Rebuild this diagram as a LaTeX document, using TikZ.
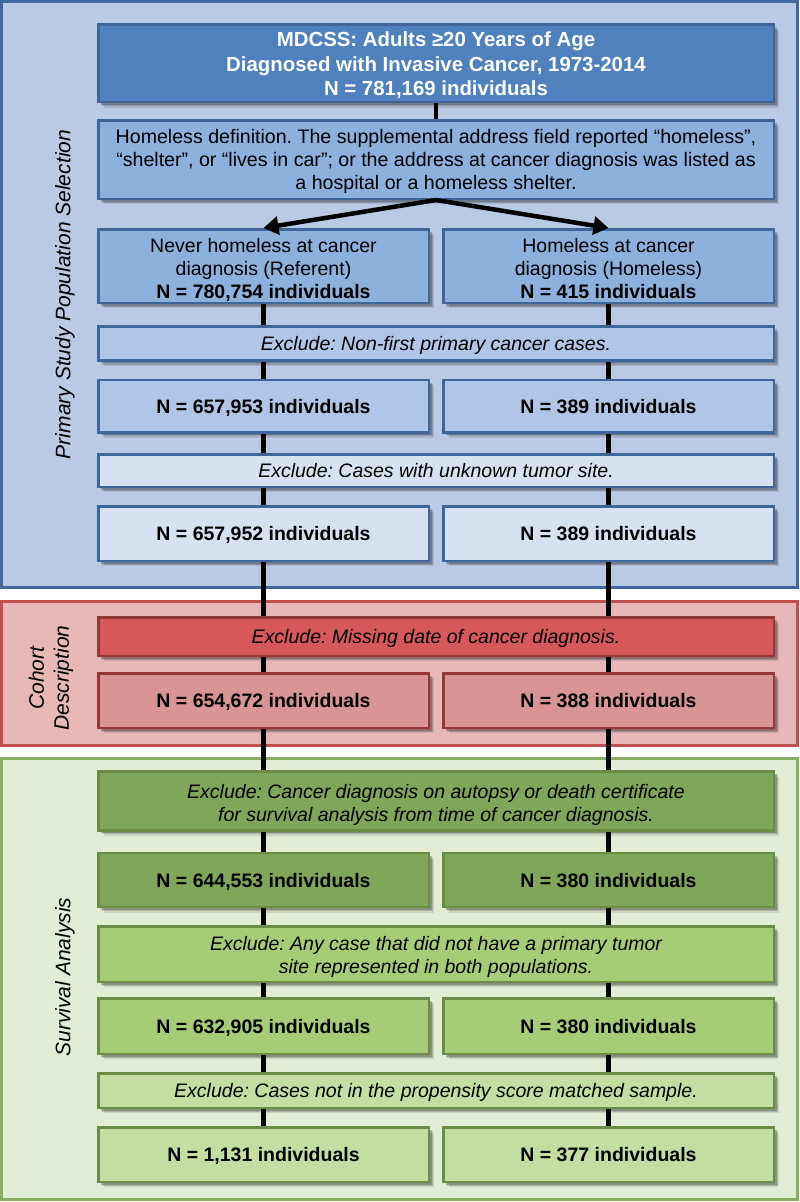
\documentclass[tikz,border=0pt]{standalone}
\usepackage{fontspec}
\setmainfont{Liberation Sans}
\usetikzlibrary{arrows.meta,shadows}
\pgfdeclarelayer{panels}
\pgfdeclarelayer{lines}
\pgfsetlayers{panels,lines,main}
\frenchspacing
\definecolor{bpanel}{HTML}{B9CAE5}
\definecolor{bpanelline}{HTML}{41679B}
\definecolor{btop}{HTML}{4F81BD}
\definecolor{bline}{HTML}{3E6698}
\definecolor{bA}{HTML}{8DB0DC}
\definecolor{bB}{HTML}{AFC6E7}
\definecolor{bC}{HTML}{D6E1F1}
\definecolor{rpanel}{HTML}{E6B9B8}
\definecolor{rpanelline}{HTML}{C0504D}
\definecolor{rline}{HTML}{953735}
\definecolor{rA}{HTML}{D6585A}
\definecolor{rB}{HTML}{D99594}
\definecolor{gpanel}{HTML}{E1EED5}
\definecolor{gpanelline}{HTML}{8AAD63}
\definecolor{gline}{HTML}{6A8C45}
\definecolor{gA}{HTML}{7FA75A}
\definecolor{gB}{HTML}{A5CD78}
\definecolor{gC}{HTML}{C3DEA0}
\newcommand{\topstrut}[1]{\rule{0pt}{#1}}
\begin{document}
\begin{tikzpicture}[x=1pt,y=-1pt,
  box/.style={draw, line width=2.5pt, inner sep=0pt, align=center,
    font=\fontsize{19.5}{23}\selectfont,
    drop shadow={shadow xshift=5.5pt, shadow yshift=-5.5pt, opacity=0.10, fill=black},
    drop shadow={shadow xshift=4pt, shadow yshift=-4pt, opacity=0.15, fill=black},
    drop shadow={shadow xshift=2.8pt, shadow yshift=-2.8pt, opacity=0.2, fill=black}},
  wide/.style={box, minimum width=675.5pt},
  half/.style={box, minimum width=330.5pt},
  excl/.style={wide, text depth=-3pt, font=\fontsize{19.5}{23.4}\selectfont\itshape},
  exclm/.style={wide, font=\fontsize{19.5}{23.4}\selectfont\itshape},
  nbox/.style={half, text depth=-2.4pt, font=\fontsize{19.5}{23}\selectfont\bfseries},
  blue1/.style={fill=bA, draw=bline},
  blue2/.style={fill=bB, draw=bline},
  blue3/.style={fill=bC, draw=bline},
  red1/.style={fill=rA, draw=rline},
  red2/.style={fill=rB, draw=rline},
  green1/.style={fill=gA, draw=gline},
  green2/.style={fill=gB, draw=gline},
  green3/.style={fill=gC, draw=gline},
  conn/.style={line width=4.5pt, black},
  split/.style={line width=4.5pt, black, -{Triangle[length=15pt,width=18pt]}},
  panelbox/.style={line width=3pt},
  side/.style={rotate=90, align=center, font=\fontsize{21}{25}\selectfont\itshape}
]
\useasboundingbox (0,0) rectangle (800,1202);

% panels
\begin{pgfonlayer}{panels}
\draw[panelbox, fill=bpanel, draw=bpanelline] (1.5,1.5) rectangle (797.5,587.5);
\draw[panelbox, fill=rpanel, draw=rpanelline] (1.5,601.5) rectangle (797.5,745.5);
\draw[panelbox, fill=gpanel, draw=gpanelline] (1.5,758.5) rectangle (797.5,1199.5);
\end{pgfonlayer}

% side labels
\node[side] (lab1) at (65,294.5) {Primary Study Population Selection};
\node[side] (lab2) at (51,678) {Cohort\\Description};
\node[side] (lab3) at (65,977) {Survival Analysis};

% boxes
\node[wide, fill=btop, draw=bline, minimum height=77.5pt, text=white,
  font=\fontsize{20.4}{24.7}\selectfont\bfseries] (top) at (436,63.3)
  {\topstrut{19pt}MDCSS: Adults ≥20 Years of Age\\Diagnosed with Invasive Cancer, 1973-2014\\N = 781,169 individuals};
\node[wide, blue1, minimum height=78.5pt,
  font=\fontsize{19.6}{22.8}\selectfont] (def) at (436,159.5)
  {\topstrut{17.5pt}Homeless definition. The supplemental address field reported “homeless”,\\
   “shelter”, or “lives in car”; or the address at cancer diagnosis was listed as\\
   a hospital or a homeless shelter.};
\node[half, blue1, minimum height=73.5pt] (L0) at (263.5,266)
  {\topstrut{22.9pt}Never homeless at cancer\\diagnosis (Referent)\\\textbf{N = 780,754 individuals}};
\node[half, blue1, minimum height=73.5pt] (R0) at (608.5,266)
  {\topstrut{20pt}Homeless at cancer\\diagnosis (Homeless)\\\textbf{N = 415 individuals}};

\node[excl, blue2, minimum height=34pt] (E1) at (436,343.5) {Exclude: Non-first primary cancer cases.};
\node[nbox, blue2, minimum height=52.5pt] (L1) at (263.5,406) {N = 657,953 individuals};
\node[nbox, blue2, minimum height=52.5pt] (R1) at (608.5,406) {N = 389 individuals};

\node[excl, blue3, minimum height=32.5pt] (E2) at (436,470.5) {Exclude: Cases with unknown tumor site.};
\node[nbox, blue3, minimum height=54.5pt] (L2) at (263.5,533.5) {N = 657,952 individuals};
\node[nbox, blue3, minimum height=54.5pt] (R2) at (608.5,533.5) {N = 389 individuals};

\node[excl, red1, minimum height=38.5pt] (E3) at (436,636.5) {Exclude: Missing date of cancer diagnosis.};
\node[nbox, red2, minimum height=54.5pt] (L3) at (263.5,700.5) {N = 654,672 individuals};
\node[nbox, red2, minimum height=54.5pt] (R3) at (608.5,700.5) {N = 388 individuals};

\node[exclm, green1, minimum height=59pt] (E4) at (436,800.8)
  {\topstrut{22.5pt}Exclude: Cancer diagnosis on autopsy or death certificate\\for survival analysis from time of cancer diagnosis.};
\node[nbox, green1, minimum height=54pt] (L4) at (263.5,880) {N = 644,553 individuals};
\node[nbox, green1, minimum height=54pt] (R4) at (608.5,880) {N = 380 individuals};

\node[exclm, green2, minimum height=55.5pt] (E5) at (436,954)
  {\topstrut{19.7pt}Exclude: Any case that did not have a primary tumor\\site represented in both populations.};
\node[nbox, green2, minimum height=55.5pt] (L5) at (263.5,1026) {N = 632,905 individuals};
\node[nbox, green2, minimum height=55.5pt] (R5) at (608.5,1026) {N = 380 individuals};

\node[excl, green3, minimum height=34.5pt] (E6) at (436,1090.5) {Exclude: Cases not in the propensity score matched sample.};
\node[nbox, green3, minimum height=54.5pt] (L6) at (263.5,1154.5) {N = 1,131 individuals};
\node[nbox, green3, minimum height=54.5pt] (R6) at (608.5,1154.5) {N = 377 individuals};

% connectors
\begin{pgfonlayer}{lines}
\draw[conn] (top) -- (def);
\draw[conn] (L0) -- (L1) -- (L2) -- (L3) -- (L4) -- (L5) -- (L6);
\draw[conn] (R0) -- (R1) -- (R2) -- (R3) -- (R4) -- (R5) -- (R6);
\end{pgfonlayer}
\draw[split] (def.south) -- (L0.north);
\draw[split] (def.south) -- (R0.north);
\end{tikzpicture}
\end{document}
